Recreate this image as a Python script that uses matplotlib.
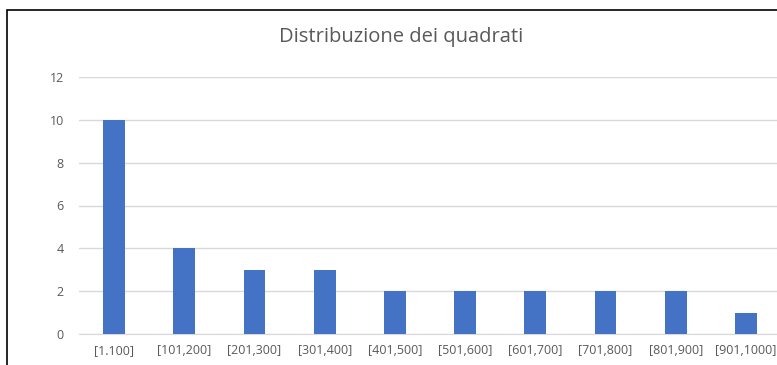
import matplotlib
matplotlib.use("Agg")
import matplotlib.pyplot as plt
from matplotlib.patches import Rectangle

categories = ["[1.100]", "[101,200]", "[201,300]", "[301,400]", "[401,500]",
              "[501,600]", "[601,700]", "[701,800]", "[801,900]", "[901,1000]"]
counts = [10, 4, 3, 3, 2, 2, 2, 2, 2, 1]
yticks = [0, 2, 4, 6, 8, 10, 12]
title = "Distribuzione dei quadrati"

W, H = 777, 365
fig = plt.figure(figsize=(W / 100, H / 100), dpi=100)
plt.rcParams['font.family'] = ['Open Sans', 'DejaVu Sans']

# chart-area frame
fig.patches.append(Rectangle((7 / W, -0.1), 1.2, (H - 10) / H + 0.1,
                             transform=fig.transFigure, fill=False,
                             edgecolor="black", linewidth=1.2))

ax = fig.add_axes([79 / W, 31 / H, 702 / W, 257 / H])
x = range(len(categories))
ax.bar(x, counts, width=0.31, color="#4472C4", zorder=3)
ax.set_xlim(-0.5, len(categories) - 0.5)
ax.set_ylim(0, 12)
ax.set_yticks(yticks)
ax.set_xticks(list(x))
ax.set_xticklabels(categories)
ax.grid(axis="y", color="#d9d9d9", linewidth=1, zorder=0)
for s in ["top", "right", "left"]:
    ax.spines[s].set_visible(False)
ax.spines["bottom"].set_color("#d9d9d9")
ax.tick_params(length=0, colors="#595959", labelsize=9)
ax.tick_params(axis="x", pad=7)
ax.tick_params(axis="y", pad=11)
ax.patch.set_alpha(0)

fig.text(401 / W, 1 - 37 / H, title, ha="center", va="center",
         fontsize=14.5, color="#595959")

fig.savefig("out.png", dpi=100)
